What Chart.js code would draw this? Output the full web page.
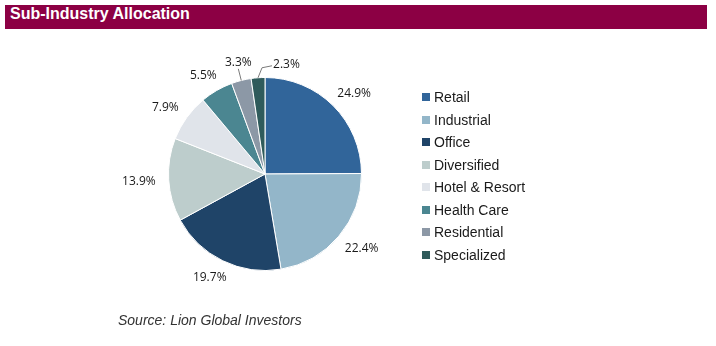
<!DOCTYPE html>
<html><head><meta charset="utf-8">
<script src="https://cdn.jsdelivr.net/npm/chart.js@4"></script>
<style>
html,body{margin:0;padding:0;background:#fff;}
#wrap{position:relative;width:716px;height:346px;overflow:hidden;background:#fff;}
#hdr{position:absolute;left:5px;top:5px;width:702px;height:24px;background:#8C0044;}
#ttl{position:absolute;left:10px;top:5px;height:24px;line-height:24px;color:#fff;font:bold 16px "Liberation Sans",Arial,sans-serif;white-space:nowrap;}
#cv{position:absolute;left:0;top:0;}
#legend{position:absolute;left:422px;top:85.75px;font:14px "Liberation Sans",Arial,sans-serif;color:#1a1a1a;}
.row{height:22.5px;display:flex;align-items:center;white-space:nowrap;}
.sw{width:8px;height:8px;margin-right:4px;flex:none;}
#src{position:absolute;left:118px;top:312px;font:italic 14px "Liberation Sans",Arial,sans-serif;color:#333;white-space:nowrap;}
</style>
</head><body>
<div id="wrap">
  <div id="hdr"></div>
  <div id="ttl">Sub-Industry Allocation</div>
  <canvas id="cv" width="716" height="346"></canvas>
  <div id="legend"></div>
  <div id="src">Source: Lion Global Investors</div>
</div>
<script>
const categories = ["Retail","Industrial","Office","Diversified","Hotel & Resort","Health Care","Residential","Specialized"];
const allocation = [24.9, 22.4, 19.7, 13.9, 7.9, 5.5, 3.3, 2.3];
const colors = ["#31659A","#93B6C9","#1F4468","#BDCDCC","#E0E4EA","#4B8691","#8C98A6","#2F5B5B"];

// HTML legend built from the data arrays
const lg = document.getElementById('legend');
categories.forEach((c,i)=>{
  const row=document.createElement('div'); row.className='row';
  const sw=document.createElement('span'); sw.className='sw'; sw.style.background=colors[i];
  const t=document.createElement('span'); t.textContent=c;
  row.appendChild(sw); row.appendChild(t); lg.appendChild(row);
});

const labelPlugin = {
  id:'pctLabels',
  afterDatasetsDraw(chart){
    const ctx=chart.ctx;
    const meta=chart.getDatasetMeta(0);
    const vals=chart.data.datasets[0].data;
    const total=vals.reduce((a,b)=>a+b,0);
    ctx.save();
    ctx.font='12px "Open Sans", sans-serif';
    ctx.fillStyle='#1a1a1a';
    ctx.textAlign='center';
    ctx.textBaseline='alphabetic';
    ctx.strokeStyle='#7a7a7a';
    ctx.lineWidth=1;
    const digitH=12*0.714;
    const boxes=[];
    meta.data.forEach((a,i)=>{
      const mid=(a.startAngle+a.endAngle)/2;
      const ux=Math.cos(mid), uy=Math.sin(mid);
      const r=a.outerRadius;
      const txt=vals[i].toFixed(1)+'%';
      const w=ctx.measureText(txt).width, h=10;
      let cx,cy,leader=null;
      if(vals[i]/total<0.04){
        const p0=[a.x+ux*r,a.y+uy*r];
        let p1=[a.x+ux*(r+12),a.y+uy*(r+12)];
        cx=p1[0]; cy=p1[1]-h/2-2;
        const prev=boxes[boxes.length-1];
        if(prev && Math.abs(prev.cx-cx)<(prev.w+w)/2 && Math.abs(prev.cy-cy)<(prev.h+h)/2){
          p1=[p0[0]+4,p0[1]-10];
          const p2=[p1[0]+10,p1[1]-2];
          leader=[p0,p1,p2];
          cx=p2[0]+1+w/2; cy=p2[1]-2;
        } else {
          leader=[p0,p1];
        }
      } else {
        const d=r+13;
        cx=a.x+ux*d+ux*w/2; cy=a.y+uy*d+uy*h/2;
      }
      boxes.push({cx,cy,w,h});
      if(leader){
        ctx.beginPath();
        ctx.moveTo(leader[0][0],leader[0][1]);
        for(let k=1;k<leader.length;k++) ctx.lineTo(leader[k][0],leader[k][1]);
        ctx.stroke();
      }
      ctx.fillText(txt,cx,cy+digitH/2);
    });
    ctx.restore();
  }
};

new Chart(document.getElementById('cv'),{
  type:'pie',
  data:{labels:categories,datasets:[{data:allocation,backgroundColor:colors,borderColor:'#ffffff',borderWidth:1}]},
  options:{
    responsive:false,
    animation:false,
    layout:{padding:{left:168,right:354,top:77,bottom:75}},
    plugins:{legend:{display:false},tooltip:{enabled:false}}
  },
  plugins:[labelPlugin]
});
</script>
</body></html>
